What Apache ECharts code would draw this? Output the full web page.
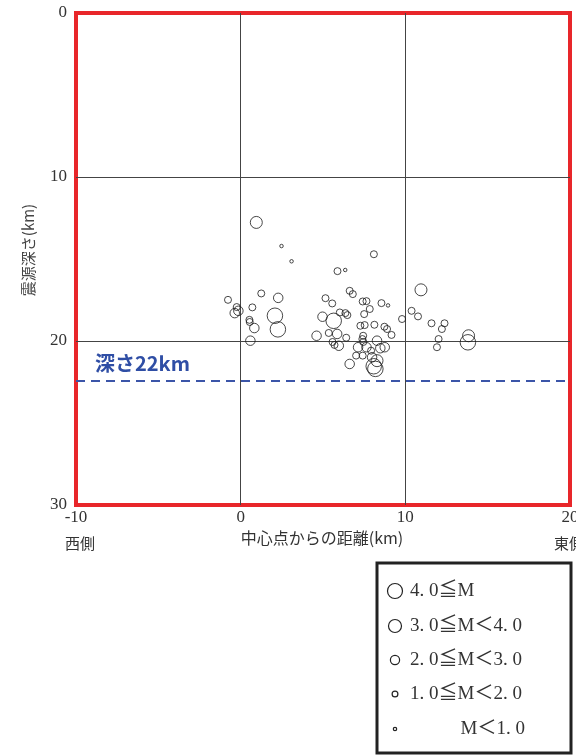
<!DOCTYPE html>
<html>
<head>
<meta charset="utf-8">
<script src="https://cdn.jsdelivr.net/npm/echarts@6/dist/echarts.min.js"></script>
<style>
html,body{margin:0;padding:0;background:#fff;overflow:hidden;width:576px;height:756px;}
#c{width:576px;height:756px;position:absolute;left:0;top:0;}
</style>
</head>
<body>
<div id="c"></div>
<script>
// ---- data (distance km, depth km) per magnitude class ----
const xTicks = [-10, 0, 10, 20];
const yTicks = [0, 10, 20, 30];
const depthLine = 22.4;
const depthLabel = '深さ22km';
const xName = '中心点からの距離(km)';
const yName = '震源深さ(km)';
const westLabel = '西側';
const eastLabel = '東側';
const legendLabels = ['4. 0≦M', '3. 0≦M＜4. 0', '2. 0≦M＜3. 0', '1. 0≦M＜2. 0', 'M＜1. 0'];

const mag4 = [[2.08,18.46],[2.26,19.29],[5.65,18.77],[8.08,21.54],[8.18,21.70],[13.80,20.08]];
const mag3 = [[0.95,12.77],[10.95,16.88],[13.84,19.68],[8.28,21.20]];
const mag2 = [[2.28,17.37],[-0.36,18.30],[-0.14,18.16],[0.83,19.21],[0.59,19.98],[4.97,18.52],
  [4.61,19.68],[5.86,19.57],[5.96,20.29],[8.28,19.98],[7.13,20.38],[7.64,20.38],[8.48,20.44],
  [7.98,20.99],[6.62,21.40],[8.75,20.38]];
const mag1 = [[5.88,15.74],[8.09,14.71],[-0.77,17.49],[1.25,17.10],[-0.24,17.93],[0.71,17.95],
  [0.53,18.71],[0.55,18.84],[5.15,17.39],[5.56,17.71],[6.62,16.94],[6.81,17.14],[7.41,17.59],
  [7.64,17.57],[8.55,17.69],[10.38,18.16],[6.02,18.26],[6.36,18.30],[6.48,18.42],[7.84,18.05],
  [7.50,18.36],[9.80,18.66],[7.27,19.07],[7.53,19.03],[8.12,19.01],[8.73,19.13],[8.89,19.27],
  [9.16,19.63],[5.35,19.51],[6.41,19.80],[5.58,20.06],[5.70,20.24],[7.44,19.68],[7.39,19.88],
  [7.45,20.06],[7.92,20.59],[7.01,20.89],[7.41,20.89],[10.77,18.50],[11.59,18.92],[12.38,18.92],
  [12.22,19.27],[12.02,19.88],[11.92,20.38]];
const mag0 = [[2.48,14.21],[3.09,15.14],[6.35,15.67],[8.95,17.83]];

const classes = [mag4, mag3, mag2, mag1, mag0];
const symSizes = [15.5, 12, 9.5, 7, 3.5];

const serif = "'Liberation Serif','DejaVu Serif','Noto Sans CJK JP',serif";
const jp = "'Noto Sans CJK JP',sans-serif";

const chart = echarts.init(document.getElementById('c'), null, { width: 576, height: 756 });

const series = classes.map((d, i) => ({
  type: 'scatter',
  data: d,
  symbol: 'circle',
  symbolSize: symSizes[i],
  itemStyle: { color: 'rgba(255,255,255,0)', borderColor: '#1a1a1a', borderWidth: 1 },
  emphasis: { disabled: true },
  z: 5
}));
series.push({
  type: 'line',
  data: [],
  markLine: {
    silent: true,
    symbol: 'none',
    label: { show: false },
    lineStyle: { color: '#3b55a8', width: 2, type: [9, 6] },
    data: [{ yAxis: depthLine }]
  }
});

const legendRows = [591, 626, 660, 694, 729];
const legendR = [7.5, 6.5, 4.6, 2.9, 1.7];
const graphics = [
  { type: 'text', left: 95, top: 353, style: { text: depthLabel, font: "bold 20px 'Noto Sans CJK JP',sans-serif", fill: '#2f4ea5' } },
  { type: 'text', x: 322, y: 538, style: { text: xName, font: '16px ' + jp, fill: '#333', textAlign: 'center', textVerticalAlign: 'middle' } },
  { type: 'text', x: 80, y: 543, style: { text: westLabel, font: '15px ' + jp, fill: '#333', textAlign: 'center', textVerticalAlign: 'middle' } },
  { type: 'text', x: 569, y: 543, style: { text: eastLabel, font: '15px ' + jp, fill: '#333', textAlign: 'center', textVerticalAlign: 'middle' } },
  { type: 'text', x: 28, y: 250, rotation: Math.PI / 2, style: { text: yName, font: '15px ' + jp, fill: '#444', textAlign: 'center', textVerticalAlign: 'middle' } },
  { type: 'rect', shape: { x: 377, y: 563, width: 194, height: 190 }, style: { fill: '#fff', stroke: '#222', lineWidth: 3 } }
];
legendLabels.forEach((t, i) => {
  graphics.push({ type: 'circle', shape: { cx: 395, cy: legendRows[i], r: legendR[i] }, style: { fill: 'none', stroke: '#222', lineWidth: 1.2 } });
  graphics.push({ type: 'text', x: i === 4 ? 525 : 410, y: legendRows[i],
    style: { text: t, font: '19px ' + serif, fill: '#333', textAlign: i === 4 ? 'right' : 'left', textVerticalAlign: 'middle' } });
});

chart.setOption({
  animation: false,
  grid: { left: 76, right: 6, top: 13, bottom: 251, show: true, borderColor: '#e8262a', borderWidth: 4, backgroundColor: 'rgba(0,0,0,0)', containLabel: false, outerBoundsMode: 'none' },
  xAxis: {
    type: 'value', min: xTicks[0], max: xTicks[xTicks.length - 1], interval: 10,
    axisLine: { show: false }, axisTick: { show: false },
    splitLine: { show: true, showMinLine: false, showMaxLine: false, lineStyle: { color: '#444', width: 1 } },
    axisLabel: { fontFamily: serif, fontSize: 17, color: '#333', margin: 4 }
  },
  yAxis: {
    type: 'value', inverse: true, min: yTicks[0], max: yTicks[yTicks.length - 1], interval: 10,
    axisLine: { show: false }, axisTick: { show: false },
    splitLine: { show: true, showMinLine: false, showMaxLine: false, lineStyle: { color: '#444', width: 1 } },
    axisLabel: { fontFamily: serif, fontSize: 17, color: '#333', margin: 9 }
  },
  series: series,
  graphic: graphics
});
</script>
</body>
</html>
